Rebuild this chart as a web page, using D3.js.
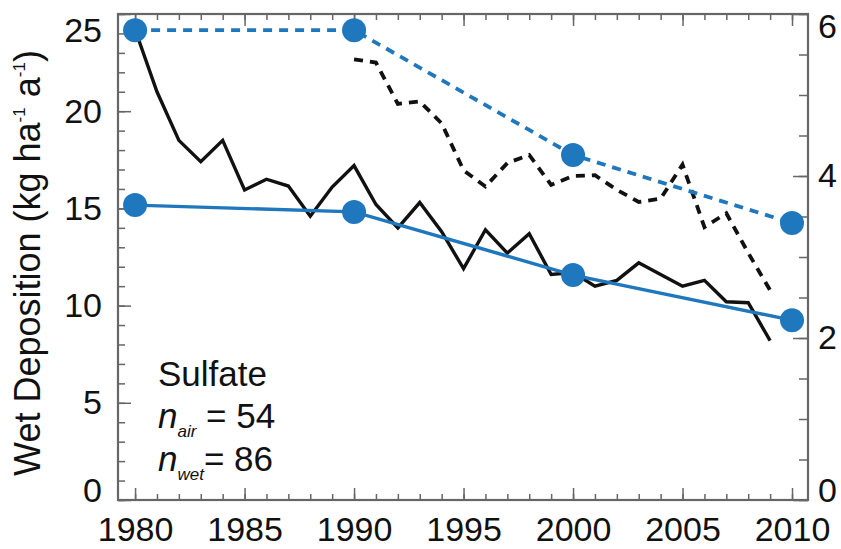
<!DOCTYPE html>
<html>
<head>
<meta charset="utf-8">
<style>
  body { margin: 0; background: #fff; }
  svg { display: block; font-family: "Liberation Sans", Arial, sans-serif; }
  .tick text { fill: #111; }
</style>
</head>
<body>
<script src="https://cdn.jsdelivr.net/npm/d3@7"></script>
<script>

// annual wet deposition of sulfate (left axis, kg ha-1 a-1)
var years = [1980,1981,1982,1983,1984,1985,1986,1987,1988,1989,
             1990,1991,1992,1993,1994,1995,1996,1997,1998,1999,
             2000,2001,2002,2003,2004,2005,2006,2007,2008,2009];
var wetDep = [24.2,21.0,18.5,17.4,18.5,15.95,16.5,16.15,14.6,16.1,
              17.2,15.2,14.0,15.3,13.8,11.9,13.9,12.7,13.7,11.6,
              11.7,11.0,11.3,12.2,11.6,11.0,11.3,10.2,10.15,8.2];

// annual air concentration (right axis), dashed black
var airYears = [1990,1991,1992,1993,1994,1995,1996,1997,1998,1999,
                2000,2001,2002,2003,2004,2005,2006,2007,2008,2009];
var airConc = [5.44,5.40,4.89,4.92,4.65,4.07,3.87,4.16,4.26,3.89,
               4.00,4.01,3.83,3.68,3.72,4.14,3.37,3.54,3.05,2.59];

// decadal model values (blue)
var decades = [1980, 1990, 2000, 2010];
var modelWet = [15.17, 14.82, 11.57, 9.25];   // left axis, solid
var modelAir = [5.80, 5.80, 4.26, 3.42];      // right axis, dashed

var xTicks = [1980, 1985, 1990, 1995, 2000, 2005, 2010];
var yLeftTicks = [0, 5, 10, 15, 20, 25];
var yRightTicks = [0, 2, 4, 6];

var width = 841, height = 549;
var box = {left: 118, right: 808, top: 14, bottom: 500};
var blue = '#1f77be';

var x = d3.scaleLinear().domain([1979.22, 2010.73]).range([box.left, box.right]);
var yL = d3.scaleLinear().domain([0, 25]).range([box.bottom, box.top]);
var yR = d3.scaleLinear().domain([0, 6]).range([box.bottom, box.top]);

var svg = d3.select('body').append('svg')
    .attr('width', width)
    .attr('height', height);

// minor ticks first
var minorX = d3.range(1980, 2011);
var minorL = d3.range(0, 26);
var minorR = d3.range(0, 6.01, 0.5);

function styleAxis(g) {
  g.select('.domain').remove();
  g.selectAll('.tick line').attr('stroke', '#666').attr('stroke-width', 1.5);
  g.selectAll('.tick text').attr('font-size', 34).attr('font-family', '"Liberation Sans", Arial, sans-serif');
}

svg.append('g').attr('transform', `translate(0,${box.bottom})`)
  .call(d3.axisBottom(x).tickValues(minorX).tickFormat('').tickSize(-6)).call(styleAxis);
svg.append('g').attr('transform', `translate(0,${box.top})`)
  .call(d3.axisTop(x).tickValues(minorX).tickFormat('').tickSize(-6)).call(styleAxis);
svg.append('g').attr('transform', `translate(${box.left},0)`)
  .call(d3.axisLeft(yL).tickValues(minorL).tickFormat('').tickSize(-7)).call(styleAxis);
svg.append('g').attr('transform', `translate(${box.right},0)`)
  .call(d3.axisRight(yR).tickValues(minorR).tickFormat('').tickSize(-9)).call(styleAxis);

// major ticks with labels
svg.append('g').attr('transform', `translate(0,${box.bottom})`)
  .call(d3.axisBottom(x).tickValues(xTicks).tickFormat(d3.format('d')).tickSize(-12).tickPadding(17))
  .call(styleAxis);
svg.append('g').attr('transform', `translate(0,${box.top})`)
  .call(d3.axisTop(x).tickValues(xTicks).tickFormat('').tickSize(-12))
  .call(styleAxis);

var gl = svg.append('g').attr('transform', `translate(${box.left},0)`)
  .call(d3.axisLeft(yL).tickValues(yLeftTicks).tickFormat(d3.format('d')).tickSize(-13).tickPadding(16))
  .call(styleAxis);
gl.selectAll('.tick text').filter(d => d === 25).attr('dy', '0.8em');
gl.selectAll('.tick text').filter(d => d === 0).attr('dy', '0.05em');

var gr = svg.append('g').attr('transform', `translate(${box.right},0)`)
  .call(d3.axisRight(yR).tickValues(yRightTicks).tickFormat(d3.format('d')).tickSize(-15).tickPadding(10))
  .call(styleAxis);
gr.selectAll('.tick text').filter(d => d === 6).attr('dy', '0.7em');
gr.selectAll('.tick text').filter(d => d === 0).attr('dy', '0.05em');

// frame
svg.append('rect')
  .attr('x', box.left).attr('y', box.top)
  .attr('width', box.right - box.left).attr('height', box.bottom - box.top)
  .attr('fill', 'none').attr('stroke', '#666').attr('stroke-width', 2.2);

// lines
var lineL = d3.line().x(d => x(d[0])).y(d => yL(d[1]));
var lineR = d3.line().x(d => x(d[0])).y(d => yR(d[1]));

svg.append('path').datum(d3.zip(airYears, airConc))
  .attr('d', lineR).attr('fill', 'none').attr('stroke', '#111')
  .attr('stroke-width', 3.8).attr('stroke-dasharray', '9,7');

svg.append('path').datum(d3.zip(years, wetDep))
  .attr('d', lineL).attr('fill', 'none').attr('stroke', '#111')
  .attr('stroke-width', 3.4).attr('stroke-linejoin', 'miter');

svg.append('path').datum(d3.zip(decades, modelAir))
  .attr('d', lineR).attr('fill', 'none').attr('stroke', blue)
  .attr('stroke-width', 3.8).attr('stroke-dasharray', '9,7');

svg.append('path').datum(d3.zip(decades, modelWet))
  .attr('d', lineL).attr('fill', 'none').attr('stroke', blue)
  .attr('stroke-width', 3.4);

svg.append('g').selectAll('circle').data(d3.zip(decades, modelAir))
  .join('circle')
  .attr('cx', d => x(d[0])).attr('cy', d => yR(d[1])).attr('r', 12)
  .attr('fill', blue);

svg.append('g').selectAll('circle').data(d3.zip(decades, modelWet))
  .join('circle')
  .attr('cx', d => x(d[0])).attr('cy', d => yL(d[1])).attr('r', 12)
  .attr('fill', blue);

// y-axis title
var title = svg.append('text')
  .attr('transform', 'translate(40,263) rotate(-90)')
  .attr('text-anchor', 'middle')
  .attr('font-size', 36)
  .attr('fill', '#111');
title.append('tspan').text('Wet Deposition (kg ha');
title.append('tspan').text('-1').attr('font-size', 17).attr('dy', -15);
title.append('tspan').text(' a').attr('dy', 15);
title.append('tspan').text('-1').attr('font-size', 17).attr('dy', -15);
title.append('tspan').text(')').attr('dy', 15);

// annotation
var ann = svg.append('g').attr('fill', '#111').attr('font-size', 35);
ann.append('text').attr('x', 158).attr('y', 386).text('Sulfate');

var t1 = ann.append('text').attr('x', 158).attr('y', 428);
t1.append('tspan').text('n').attr('font-style', 'italic');
t1.append('tspan').text('air').attr('font-style', 'italic').attr('font-size', 17).attr('dy', 9);
t1.append('tspan').text(' = 54').attr('dy', -9);

var t2 = ann.append('text').attr('x', 158).attr('y', 471);
t2.append('tspan').text('n').attr('font-style', 'italic');
t2.append('tspan').text('wet').attr('font-style', 'italic').attr('font-size', 17).attr('dy', 9);
t2.append('tspan').text('= 86').attr('dy', -9);

</script>
</body>
</html>
